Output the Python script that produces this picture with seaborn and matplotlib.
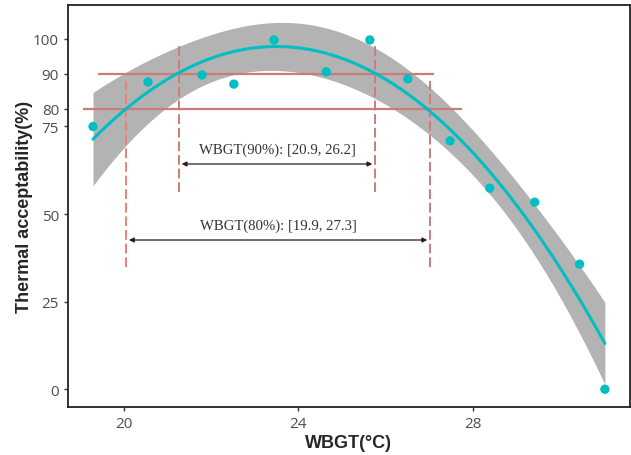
import numpy as np
import pandas as pd
import matplotlib
matplotlib.use("Agg")
import matplotlib.pyplot as plt
import seaborn as sns

# data
wbgt = [19.29, 20.55, 21.79, 22.52, 23.44, 24.64, 25.64, 26.51, 27.48, 28.39, 29.42, 30.45, 31.03]
accept = [75.0, 87.7, 89.7, 87.1, 99.7, 90.6, 99.7, 88.6, 70.9, 57.4, 53.4, 35.7, 0.0]

# thresholds and where the fit crosses them
lvl_80, lvl_90 = 80, 90
x80 = [20.05, 27.02]
x90 = [21.26, 25.76]
txt90 = "WBGT(90%): [20.9, 26.2]"
txt80 = "WBGT(80%): [19.9, 27.3]"

df = pd.DataFrame({"wbgt": wbgt, "accept": accept})

# quadratic fit + 95% confidence band (like geom_smooth lm poly 2)
x = df["wbgt"].values
y = df["accept"].values
X = np.vstack([np.ones_like(x), x, x ** 2]).T
beta, res, rk, sv = np.linalg.lstsq(X, y, rcond=None)
resid = y - X @ beta
dof = len(x) - 3
s2 = (resid ** 2).sum() / dof
cov = s2 * np.linalg.inv(X.T @ X)
xg = np.linspace(x.min(), x.max(), 200)
Xg = np.vstack([np.ones_like(xg), xg, xg ** 2]).T
yg = Xg @ beta
se = np.sqrt(np.einsum("ij,jk,ik->i", Xg, cov, Xg))
tcrit = 2.228
fit = pd.DataFrame({"wbgt": xg, "fit": yg, "lo": yg - tcrit * se, "hi": yg + tcrit * se})

sns.set_style("white")
fig = plt.figure(figsize=(6.31, 4.56), dpi=100)
ax = fig.add_axes([0.108, 0.105, 0.89, 0.882])

teal = "#00BFC4"
rose = "#cd7b78"

ax.fill_between(fit["wbgt"], fit["lo"], fit["hi"], color="#b3b3b3", lw=0, zorder=1)

# threshold lines
ax.hlines(lvl_90, 19.4, 27.1, color=rose, lw=1.6, zorder=2)
ax.hlines(lvl_80, 19.06, 27.75, color=rose, lw=1.6, zorder=2)
ax.vlines(x80, 34.9, 88, color=["#ee7f7a", rose], lw=1.4, linestyles=(0, (5, 2)), zorder=2)
ax.vlines(x90, 56.3, 98, color=[rose, rose], lw=1.4, linestyles=(0, (5, 2)), zorder=2)

sns.lineplot(data=fit, x="wbgt", y="fit", color=teal, lw=2.2, ax=ax, zorder=3)
sns.scatterplot(data=df, x="wbgt", y="accept", color=teal, s=45, edgecolor="none", ax=ax, zorder=4)

# range arrows
ax.annotate("", xy=(x90[0], 64.3), xytext=(x90[1], 64.3),
            arrowprops=dict(arrowstyle="<|-|>", color="#2a1a1a", lw=0.9, mutation_scale=7))
ax.annotate("", xy=(x80[0], 42.6), xytext=(x80[1], 42.6),
            arrowprops=dict(arrowstyle="<|-|>", color="#2a1a1a", lw=0.9, mutation_scale=7))
ax.text(sum(x90) / 2, 66.5, txt90, ha="center", va="bottom",
        family="Liberation Serif", fontsize=10.6, color="#333333")
ax.text(sum(x80) / 2, 45.0, txt80, ha="center", va="bottom",
        family="Liberation Serif", fontsize=10.6, color="#333333")

ax.set_xlim(18.72, 31.6)
ax.set_ylim(-5.1, 109.7)
ax.set_xticks([20, 24, 28])
ax.set_yticks([0, 25, 50, 75, 80, 90, 100])
ax.tick_params(axis="both", length=3, width=1, color="#333333", labelsize=11,
               labelcolor="#4d4d4d", direction="out", bottom=True, left=True)
for lab in ax.get_xticklabels() + ax.get_yticklabels():
    lab.set_family("Open Sans")
ax.set_xlabel("WBGT(°C)", fontsize=13, fontweight="bold", family="Liberation Sans", labelpad=2)
ax.set_ylabel("Thermal acceptability(%)", fontsize=13, fontweight="bold", family="Liberation Sans", labelpad=0)
for sp in ax.spines.values():
    sp.set_color("#222222")
    sp.set_linewidth(1.3)

fig.savefig("out.png", dpi=100)
